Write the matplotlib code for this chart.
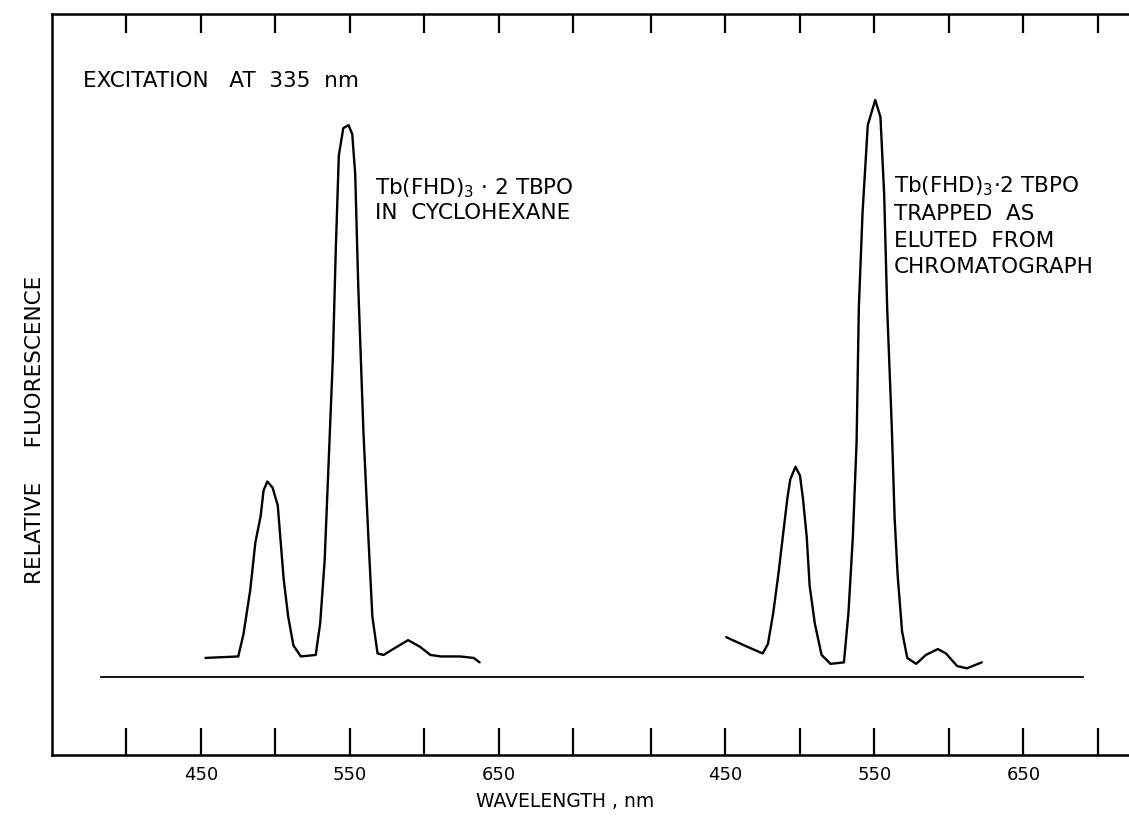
import matplotlib
matplotlib.use("Agg")
import matplotlib.pyplot as plt
import numpy as np

# ---- data ----
# Left spectrum: Tb(FHD)3 . 2 TBPO in cyclohexane
wl_left = [453, 475, 478.5, 483, 486.5, 490, 492, 494.5, 498, 501.5, 503.5, 505.5, 508.5,
           512, 517, 527, 530, 533, 535.5, 538.5, 540.5, 542.5, 545.5, 549, 551.5, 553.5,
           555.5, 559, 562.5, 565, 568.5, 572.5, 579, 589, 597, 604, 611, 624, 633, 637]
int_left = [13.1, 13.3, 16.3, 22.2, 28.7, 32.2, 35.7, 36.9, 36.1, 33.7, 28.7, 23.7, 18.7,
            14.8, 13.3, 13.5, 17.8, 26.3, 38.7, 53.6, 68.5, 80.9, 84.6, 85.0, 83.8, 78.4,
            63.5, 43.7, 28.7, 18.7, 13.7, 13.5, 14.3, 15.5, 14.6, 13.5, 13.3, 13.3, 13.1, 12.5]

# Right spectrum: trapped as eluted from chromatograph
wl_right = [450.5, 462.5, 475, 478.5, 482, 485.5, 488.5, 491.5, 493.5, 497, 500, 502, 504.5,
            506.5, 510, 514.5, 520.5, 529.5, 532.5, 535.5, 538, 539.5, 542, 545.5, 550.5, 554,
            556.5, 558.5, 561.5, 563.5, 565.5, 568.5, 572, 578, 584.5, 592.5, 598, 605.5, 612, 622]
int_right = [15.9, 14.8, 13.7, 15.0, 19.1, 24.4, 29.5, 34.6, 37.2, 38.9, 37.7, 34.6, 29.5,
             22.8, 17.7, 13.5, 12.3, 12.5, 19.1, 29.5, 42.3, 60.4, 73.2, 85.0, 88.4, 86.1,
             75.7, 60.4, 44.9, 32.1, 24.4, 16.7, 13.1, 12.3, 13.5, 14.3, 13.7, 12.0, 11.7, 12.5]

baseline_x = [383, 1042]
baseline_level = 10.5

tick_wl = [400, 450, 500, 550, 600, 650, 700]
label_wl = [450, 550, 650]
right_offset = 352  # right panel shares the axis, shifted along x

# ---- figure ----
W, H, DPI = 1129, 823, 100
fig = plt.figure(figsize=(W / DPI, H / DPI), dpi=DPI)
left_px, right_px, top_px, bot_px = 52, 1129, 14, 755
ax = fig.add_axes([left_px / W, 1 - bot_px / H, (right_px - left_px) / W, (bot_px - top_px) / H])

px_per_unit = 1.49
x0 = 350
ax.set_xlim(x0, x0 + (right_px - left_px) / px_per_unit)
ax.set_ylim(0, 100)

lw = 1.7
ax.plot(wl_left, int_left, color="black", lw=lw, solid_capstyle="round", solid_joinstyle="round")
ax.plot(np.array(wl_right) + right_offset, int_right, color="black", lw=lw,
        solid_capstyle="round", solid_joinstyle="round")
ax.plot(baseline_x, [baseline_level, baseline_level], color="black", lw=1.3)

ticks = list(tick_wl) + [t + right_offset for t in tick_wl]
labels = [str(t) if t in label_wl else "" for t in tick_wl] * 2
ax.set_xticks(ticks)
ax.set_xticklabels(labels, fontsize=13)
ax.tick_params(axis="x", which="major", direction="in", length=19.5, width=1.6,
               top=True, bottom=True, pad=8, labeltop=False)
for t in ax.xaxis.get_major_ticks():
    t.tick2line.set_markersize(14)
ax.set_yticks([])

for s in ["left", "bottom", "top"]:
    ax.spines[s].set_linewidth(1.8)
ax.spines["right"].set_visible(False)

FS = 15.5
fig.text(565 / W, 1 - 807 / H, "WAVELENGTH , nm", ha="center", va="baseline", fontsize=13.5)
fig.text(35 / W, 1 - 430 / H, "RELATIVE     FLUORESCENCE", rotation=90, ha="center",
         va="center", fontsize=FS)

ax.text(371, 90.2, "EXCITATION   AT  335  nm", ha="left", va="baseline", fontsize=FS)

ann1 = ["Tb(FHD)$_{\\mathsf{3}}$ · 2 TBPO", "IN  CYCLOHEXANE"]
ann1_y = [75.7, 72.4]
for s, y in zip(ann1, ann1_y):
    ax.text(567, y, s, ha="left", va="baseline", fontsize=FS)

ann2 = ["Tb(FHD)$_{\\mathsf{3}}$·2 TBPO", "TRAPPED  AS", "ELUTED  FROM", "CHROMATOGRAPH"]
ann2_y = [75.9, 72.2, 68.6, 65.1]
for s, y in zip(ann2, ann2_y):
    ax.text(915, y, s, ha="left", va="baseline", fontsize=FS)

fig.savefig("out.png", dpi=DPI)
